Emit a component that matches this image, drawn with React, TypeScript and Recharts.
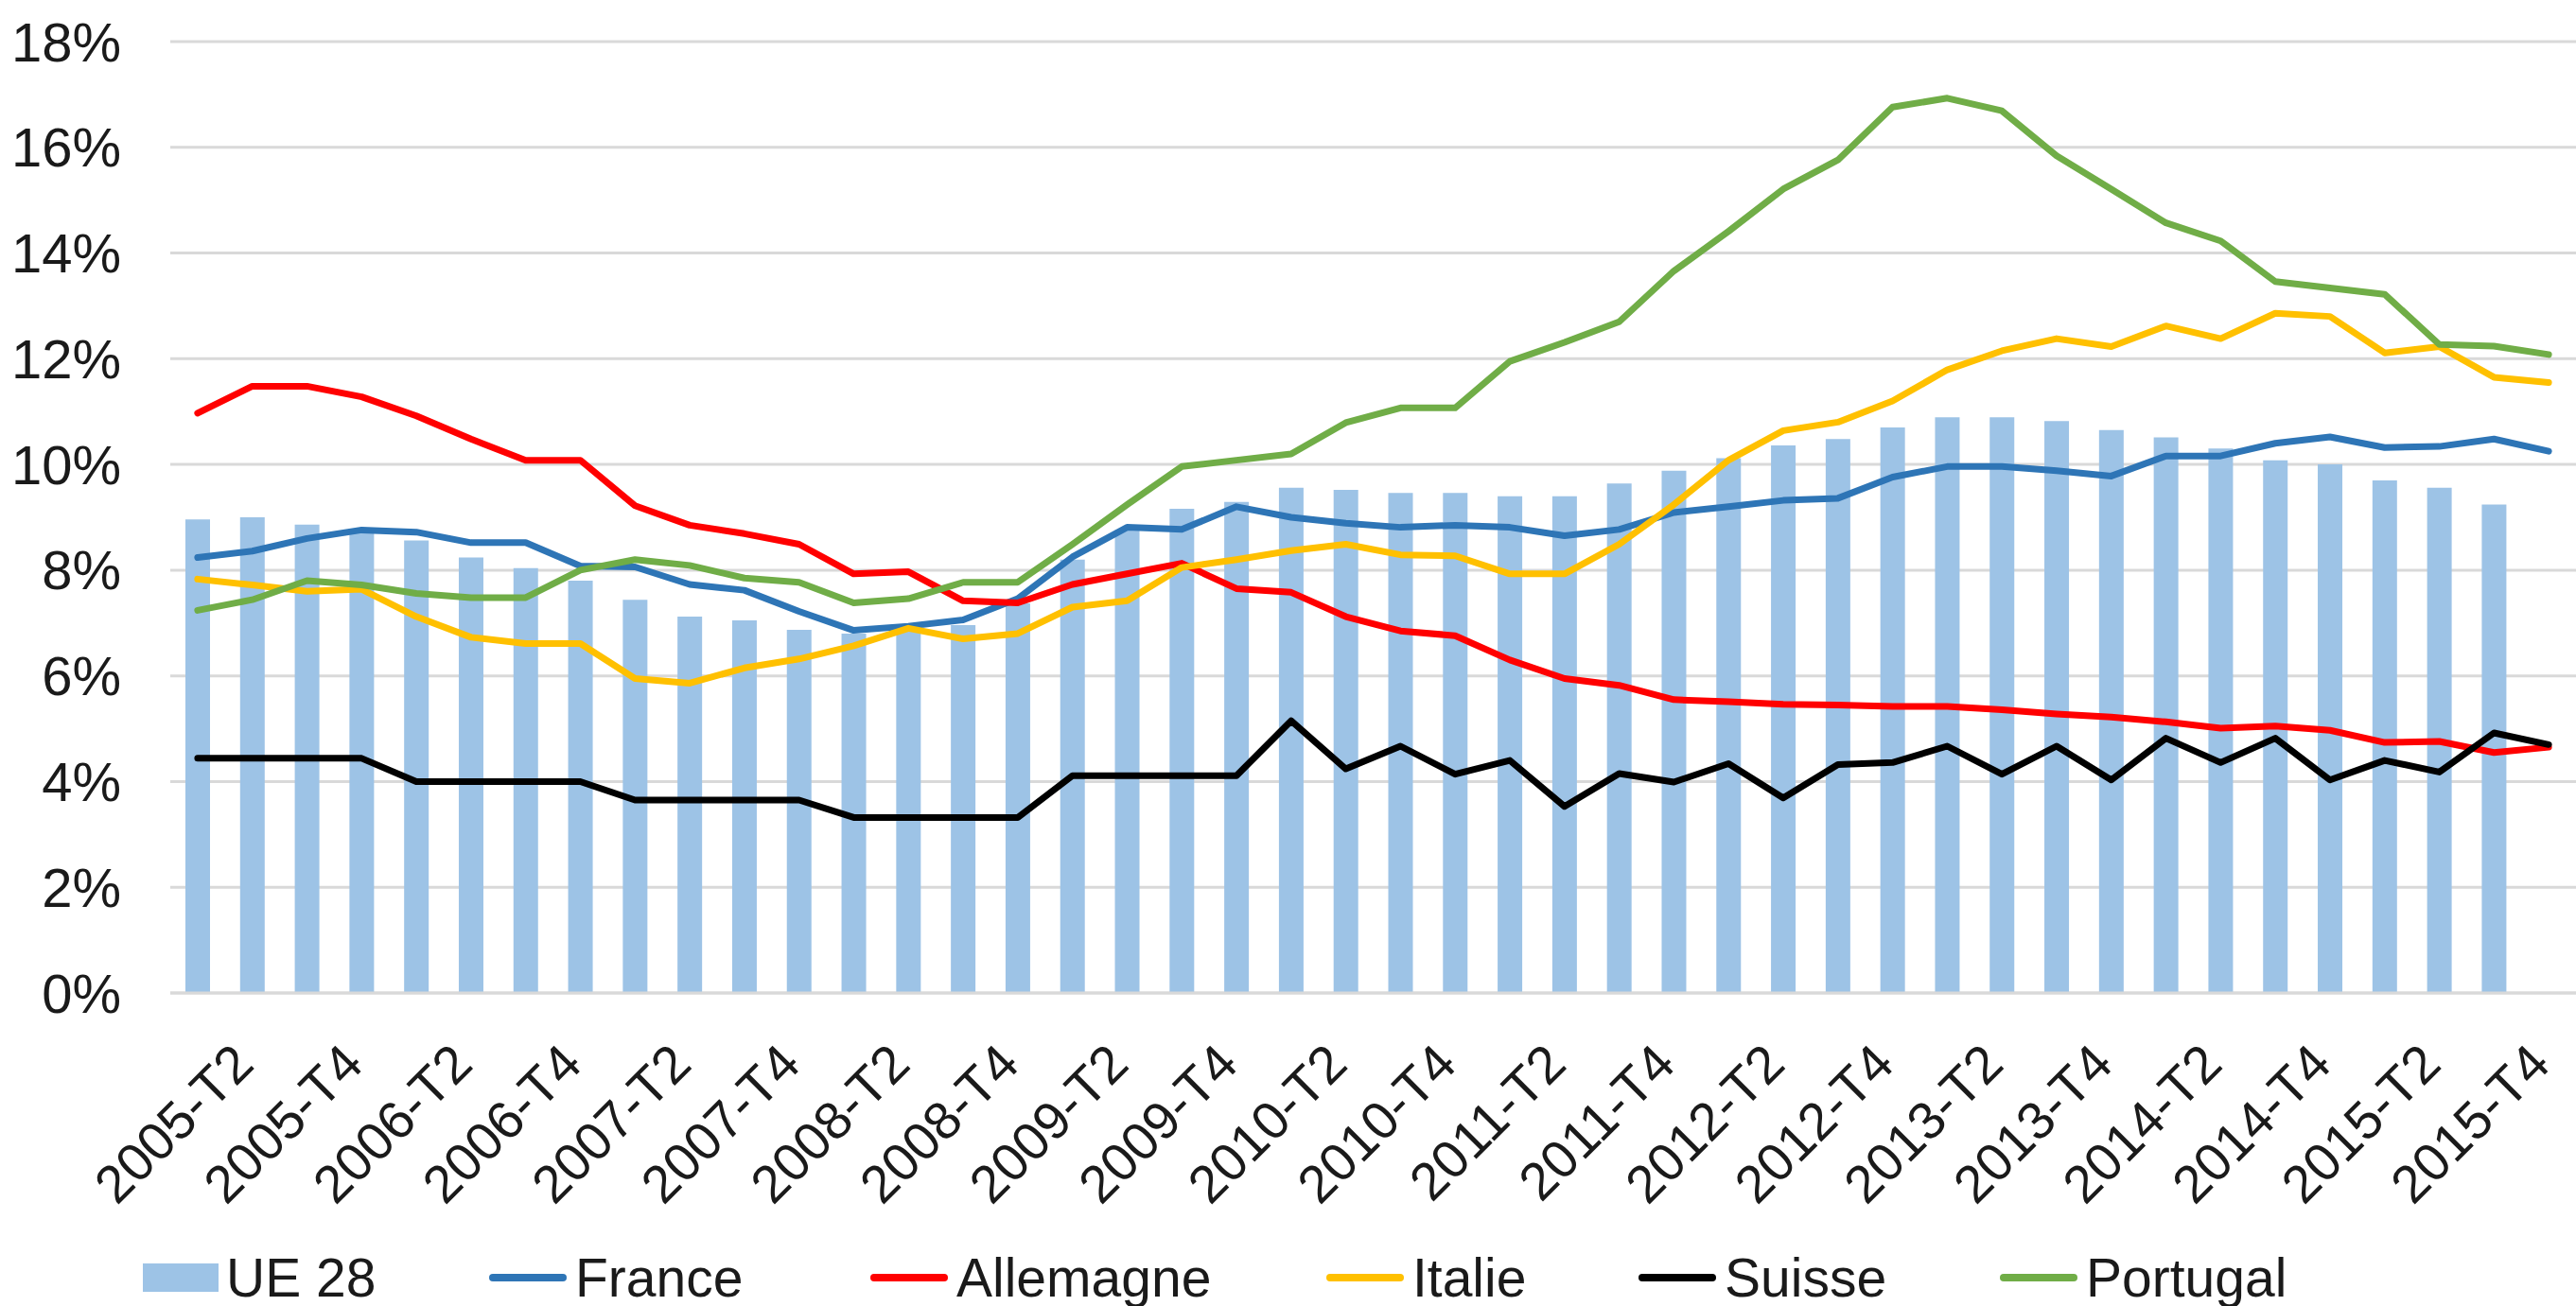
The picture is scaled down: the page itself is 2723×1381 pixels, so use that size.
import { ComposedChart, Bar, Line, XAxis, YAxis, CartesianGrid } from "recharts";

const quarters = [
  "2005-T2", "2005-T3", "2005-T4",
  "2006-T1", "2006-T2", "2006-T3", "2006-T4",
  "2007-T1", "2007-T2", "2007-T3", "2007-T4",
  "2008-T1", "2008-T2", "2008-T3", "2008-T4",
  "2009-T1", "2009-T2", "2009-T3", "2009-T4",
  "2010-T1", "2010-T2", "2010-T3", "2010-T4",
  "2011-T1", "2011-T2", "2011-T3", "2011-T4",
  "2012-T1", "2012-T2", "2012-T3", "2012-T4",
  "2013-T1", "2013-T2", "2013-T3", "2013-T4",
  "2014-T1", "2014-T2", "2014-T3", "2014-T4",
  "2015-T1", "2015-T2", "2015-T3", "2015-T4",
  "2016-T1",
];

const ue28 = [
  8.96, 9.0, 8.86, 8.72, 8.56, 8.24, 8.04, 7.8, 7.44, 7.12,
  7.05, 6.87, 6.8, 6.9, 6.96, 7.37, 8.2, 8.76, 9.16, 9.29,
  9.56, 9.52, 9.46, 9.46, 9.4, 9.4, 9.64, 9.88, 10.12, 10.36,
  10.48, 10.7, 10.89, 10.89, 10.82, 10.65, 10.51, 10.3, 10.08, 10.0,
  9.7, 9.56, 9.24, null,
];

const france = [
  8.24, 8.36, 8.6, 8.76, 8.72, 8.52, 8.52, 8.08, 8.06, 7.73,
  7.62, 7.22, 6.86, 6.94, 7.06, 7.46, 8.25, 8.81, 8.77, 9.2,
  9.0, 8.89, 8.81, 8.85, 8.81, 8.65, 8.77, 9.09, 9.2, 9.32,
  9.36, 9.76, 9.96, 9.96, 9.88, 9.78, 10.16, 10.16, 10.4, 10.52,
  10.32, 10.34, 10.48, 10.25,
];

const allemagne = [
  10.97, 11.48, 11.48, 11.28, 10.92, 10.48, 10.08, 10.08, 9.22, 8.85,
  8.69, 8.49, 7.93, 7.97, 7.42, 7.38, 7.73, 7.93, 8.13, 7.65,
  7.58, 7.12, 6.85, 6.76, 6.3, 5.95, 5.82, 5.55, 5.51, 5.46,
  5.45, 5.42, 5.42, 5.36, 5.28, 5.22, 5.13, 5.01, 5.05, 4.97,
  4.74, 4.76, 4.55, 4.65,
];

const italie = [
  7.83, 7.72, 7.6, 7.64, 7.12, 6.73, 6.61, 6.61, 5.95, 5.86,
  6.15, 6.32, 6.57, 6.9, 6.7, 6.8, 7.3, 7.42, 8.05, 8.2,
  8.37, 8.49, 8.29, 8.27, 7.93, 7.93, 8.49, 9.24, 10.08, 10.64,
  10.8, 11.2, 11.79, 12.15, 12.38, 12.23, 12.62, 12.38, 12.86, 12.8,
  12.11, 12.23, 11.65, 11.55,
];

const suisse = [
  4.44, 4.44, 4.44, 4.44, 4.0, 4.0, 4.0, 4.0, 3.65, 3.65,
  3.65, 3.65, 3.32, 3.32, 3.32, 3.32, 4.11, 4.11, 4.11, 4.11,
  5.15, 4.24, 4.67, 4.14, 4.4, 3.53, 4.15, 3.99, 4.34, 3.69,
  4.32, 4.36, 4.67, 4.14, 4.67, 4.03, 4.82, 4.36, 4.82, 4.03,
  4.4, 4.18, 4.92, 4.7,
];

const portugal = [
  7.24, 7.44, 7.8, 7.72, 7.56, 7.48, 7.48, 8.0, 8.2, 8.09,
  7.85, 7.77, 7.38, 7.46, 7.77, 7.77, 8.49, 9.24, 9.96, 10.08,
  10.2, 10.79, 11.07, 11.07, 11.95, 12.31, 12.7, 13.66, 14.41, 15.21,
  15.76, 16.76, 16.93, 16.69, 15.84, 15.21, 14.57, 14.23, 13.46, 13.34,
  13.22, 12.27, 12.24, 12.08,
];

const yTicks = [0, 2, 4, 6, 8, 10, 12, 14, 16, 18];

const series = [
  { key: "france", name: "France", color: "#2E75B6" },
  { key: "allemagne", name: "Allemagne", color: "#FF0000" },
  { key: "italie", name: "Italie", color: "#FFC000" },
  { key: "suisse", name: "Suisse", color: "#000000" },
  { key: "portugal", name: "Portugal", color: "#70AD47" },
];

const barColor = "#9DC3E6";
const textColor = "#1a1a1a";
const font = '"Liberation Sans", Arial, sans-serif';

// left edge of each legend entry (UE 28 first, then the lines)
const legendLefts = [151, 517, 920, 1402, 1732, 2114];

const data = quarters.map((q, i) => ({
  quarter: q,
  ue28: ue28[i],
  france: france[i],
  allemagne: allemagne[i],
  italie: italie[i],
  suisse: suisse[i],
  portugal: portugal[i],
}));

function QuarterTick(props: any) {
  const { x, y, payload } = props;
  const ax = x + 62;
  const ay = y + 78;
  return (
    <text
      x={ax}
      y={ay}
      transform={`rotate(-45 ${ax} ${ay})`}
      textAnchor="end"
      fontSize={56}
      fontFamily={font}
      fill={textColor}
    >
      {payload.value}
    </text>
  );
}

function LegendRow() {
  const items = [{ name: "UE 28", color: barColor, bar: true }].concat(
    series.map((s) => ({ name: s.name, color: s.color, bar: false }))
  );
  return (
    <>
      {items.map((it, i) => (
        <div
          key={it.name}
          style={{
            position: "absolute",
            left: legendLefts[i],
            top: 1319,
            display: "flex",
            alignItems: "center",
            fontFamily: font,
            fontSize: 57,
            lineHeight: "64px",
            color: textColor,
            whiteSpace: "nowrap",
          }}
        >
          <div
            style={{
              width: it.bar ? 80 : 82,
              height: it.bar ? 30 : 8,
              borderRadius: it.bar ? 0 : 4,
              background: it.color,
              marginRight: it.bar ? 8 : 9,
            }}
          />
          <span>{it.name}</span>
        </div>
      ))}
    </>
  );
}

export default function App() {
  return (
    <div
      style={{
        position: "absolute",
        left: 0,
        top: 0,
        width: 2723,
        height: 1381,
        background: "#fff",
      }}
    >
      <ComposedChart
        width={2723}
        height={1381}
        data={data}
        margin={{ top: 44, right: 0, bottom: 0, left: 0 }}
        barCategoryGap={0}
      >
        <CartesianGrid vertical={false} stroke="#D9D9D9" strokeWidth={3} />
        <XAxis
          dataKey="quarter"
          interval={1}
          height={331}
          tickLine={false}
          tickSize={0}
          tickMargin={0}
          axisLine={{ stroke: "#D9D9D9", strokeWidth: 3 }}
          tick={<QuarterTick />}
        />
        <YAxis
          domain={[0, 18]}
          ticks={yTicks}
          width={180}
          axisLine={false}
          tickLine={false}
          tickSize={0}
          tickMargin={52}
          tickFormatter={(v: number) => `${v}%`}
          tick={{ fontSize: 58, fontFamily: font, fill: textColor }}
        />
        <Bar
          dataKey="ue28"
          name="UE 28"
          fill={barColor}
          barSize={26}
          isAnimationActive={false}
        />
        {series.map((s) => (
          <Line
            key={s.key}
            type="linear"
            dataKey={s.key}
            name={s.name}
            stroke={s.color}
            strokeWidth={7}
            strokeLinejoin="round"
            strokeLinecap="round"
            dot={false}
            activeDot={false}
            isAnimationActive={false}
          />
        ))}
      </ComposedChart>
      <LegendRow />
    </div>
  );
}
